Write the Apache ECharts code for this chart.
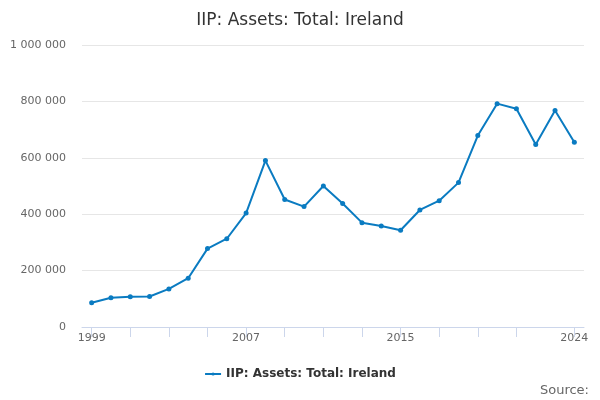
<!DOCTYPE html>
<html>
<head>
<meta charset="utf-8">
<script src="https://cdn.jsdelivr.net/npm/echarts@6/dist/echarts.min.js"></script>
<style>
  html, body { margin: 0; padding: 0; background: #fff; }
  #chart { width: 600px; height: 400px; }
</style>
</head>
<body>
<div id="chart"></div>
<script>
var years = ['1999', '2000', '2001', '2002', '2003', '2004', '2005', '2006', '2007', '2008',
  '2009', '2010', '2011', '2012', '2013', '2014', '2015', '2016', '2017', '2018',
  '2019', '2020', '2021', '2022', '2023', '2024'];
var assets = [86000, 104000, 107000, 108000, 135000, 173000, 278000, 313000, 404000, 590000,
  452000, 427000, 500000, 438000, 370000, 358000, 343000, 415000, 448000, 512000,
  679000, 792000, 774000, 647000, 768000, 655000];
var labelYears = ['1999', '2007', '2015', '2024'];
var tickYears = ['1999', '2001', '2003', '2005', '2007', '2009', '2011', '2013', '2015',
  '2017', '2019', '2021', '2024'];

var myChart = echarts.init(document.getElementById('chart'));

function spaced(v) {
  return String(v).replace(/\B(?=(\d{3})+(?!\d))/g, ' ');
}

myChart.setOption({
  textStyle: { fontFamily: 'DejaVu Sans' },
  title: {
    text: 'IIP: Assets: Total: Ireland',
    left: 'center',
    top: 7,
    textStyle: { fontSize: 17, fontWeight: 'normal', color: '#333' }
  },
  graphic: [{
    type: 'text',
    right: 11,
    top: 384,
    style: { text: 'Source:', fontSize: 13, fill: '#666', fontFamily: 'DejaVu Sans' }
  }],
  legend: {
    bottom: 15,
    left: 'center',
    itemWidth: 16,
    itemHeight: 4,
    itemGap: 5,
    data: ['IIP: Assets: Total: Ireland'],
    textStyle: { fontSize: 12, fontWeight: 'bold', color: '#333' }
  },
  grid: { left: 82, right: 16, top: 45, bottom: 73 },
  xAxis: {
    type: 'category',
    data: years,
    boundaryGap: true,
    axisLine: { show: true, lineStyle: { color: '#ccd6eb' } },
    axisTick: {
      show: true,
      alignWithLabel: true,
      interval: function (i, v) { return tickYears.indexOf(v) >= 0; },
      length: 10,
      lineStyle: { color: '#ccd6eb' }
    },
    axisLabel: {
      interval: function (i, v) { return labelYears.indexOf(v) >= 0; },
      color: '#666',
      fontSize: 11,
      margin: 6
    }
  },
  yAxis: {
    type: 'value',
    min: 0,
    max: 1000000,
    interval: 200000,
    axisLabel: { formatter: spaced, color: '#666', fontSize: 11, margin: 16 },
    splitLine: { lineStyle: { color: '#e6e6e6' } }
  },
  series: [{
    name: 'IIP: Assets: Total: Ireland',
    type: 'line',
    data: assets,
    symbol: 'circle',
    symbolSize: 5,
    lineStyle: { width: 2, color: '#0a7bc1' },
    itemStyle: { color: '#0a7bc1' }
  }]
});
</script>
</body>
</html>
